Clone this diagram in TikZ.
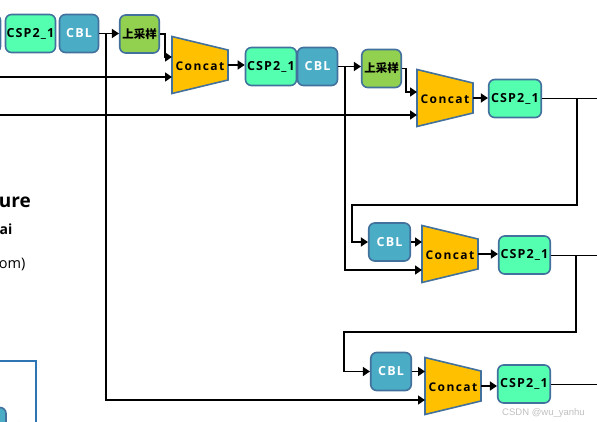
\documentclass[tikz,border=0pt]{standalone}
\usepackage{fontspec}
\setmainfont{Open Sans}
\newfontfamily\cjk{Noto Sans CJK SC}
\newfontfamily\wm{Liberation Sans}
\usetikzlibrary{arrows.meta}
\definecolor{bordc}{HTML}{41719C}
\definecolor{cspfill}{HTML}{55FFB0}
\definecolor{cblfill}{HTML}{4BACC6}
\definecolor{upfill}{HTML}{92D050}
\definecolor{catfill}{HTML}{FFC000}
\definecolor{framec}{HTML}{2E75B6}
\definecolor{wmc}{HTML}{BFBFBF}
\begin{document}
\begin{tikzpicture}[x=1pt,y=-1pt,
  blk/.style={draw=bordc,line width=1.6pt,rounded corners=6pt,inner sep=0pt,minimum height=38pt,
    font=\fontsize{12.5}{14}\selectfont\bfseries\addfontfeature{LetterSpace=9}},
  cspbox/.style={blk,fill=cspfill,minimum width=50pt},
  cblbox/.style={blk,fill=cblfill,text=white,minimum width=39pt},
  upbox/.style={blk,fill=upfill,minimum width=39.5pt,font=\cjk\fontsize{11.5}{13}\selectfont\bfseries},
  arr/.style={line width=1.5pt,-{Triangle[length=7pt,width=9pt]}},
  ln/.style={line width=1.5pt},
  thinln/.style={line width=1pt},
  concatpic/.pic={
    \draw[draw=bordc,fill=catfill,line width=1.6pt,line join=miter]
      (-28,-28.5) -- (28,-15) -- (28,15) -- (-28,28.5) -- cycle;
    \node[font=\fontsize{12}{14}\selectfont\bfseries\addfontfeature{LetterSpace=12}] (-t) at (0,1) {Concat};
    \coordinate (-w) at (-28,0);
    \coordinate (-e) at (28,0);
  }]
\useasboundingbox (0,0) rectangle (597,422);
\clip (0,0) rectangle (597,422);

% blocks
\node[cblbox] (cbl0) at (-19,33.5) {};
\node[cspbox] (csp1) at (30.5,33.5) {CSP2\_1};
\node[cblbox] (cbl1) at (79,33.5) {CBL};
\node[upbox] (up1) at (139.5,34) {上采样};
\pic (c1) at (200,65) {concatpic};
\node[cspbox,minimum width=51pt] (csp2) at (271,66.5) {CSP2\_1};
\node[cblbox,minimum width=40pt] (cbl2) at (317.5,66.5) {CBL};
\node[upbox] (up2) at (381.5,68.5) {上采样};
\pic (c2) at (445,98) {concatpic};
\node[cspbox,minimum width=52.5pt] (csp3) at (515,98.5) {CSP2\_1};
\node[cblbox,minimum width=41.5pt] (cbl3) at (389.5,242) {CBL};
\pic (c3) at (450,254) {concatpic};
\node[cspbox,minimum width=51.5pt] (csp4) at (524.5,255) {CSP2\_1};
\node[cblbox,minimum width=40.5pt] (cbl4) at (391,371.5) {CBL};
\pic (c4) at (453,386) {concatpic};
\node[cspbox,minimum width=52.5pt] (csp5) at (524,384) {CSP2\_1};

% free ends
\coordinate (in1) at (-2,77);
\coordinate (in2) at (-2,115);
\coordinate (edge) at (600,0);

% connectors
\draw[arr] (cbl1.east) -- (cbl1.east -| up1.west);
\coordinate (j1) at ([xshift=6.5pt]cbl1.east);
\draw[arr] (j1) |- ([yshift=-14pt]c4-w);
\draw[arr] (up1.east) -- ++(5,0) |- ([yshift=8pt]c1-w);
\draw[arr] (in1) -- (in1 -| c1-w);
\draw[arr] (in2) -- (in2 -| c2-w);
\draw[arr] (c1-e) -- (c1-e -| csp2.west);
\draw[arr] (cbl2.east) -- (cbl2.east -| up2.west);
\coordinate (j2) at ([xshift=6.5pt]cbl2.east);
\draw[arr] (j2) |- ([yshift=-16pt]c3-w);
\draw[arr] (up2.east) -- ++(4,0) |- ([yshift=6pt]c2-w);
\draw[arr] (c2-e) -- (c2-e -| csp3.west);
\draw[thinln] (csp3.east) -- (csp3.east -| edge);
\coordinate (k1) at ([xshift=35pt]csp3.east);
\draw[arr] (k1) |- ++(-225,106.5) |- (cbl3.west);
\draw[arr] (cbl3.east) -- (cbl3.east -| c3-w);
\draw[arr] (c3-e) -- (c3-e -| csp4.west);
\draw[thinln] (csp4.east) -- (csp4.east -| edge);
\coordinate (k2) at ([xshift=25pt]csp4.east);
\draw[arr] (k2) |- ++(-232,77) |- (cbl4.west);
\draw[arr] (cbl4.east) -- (cbl4.east -| c4-w);
\draw[arr] (c4-e) -- (c4-e -| csp5.west);
\draw[thinln] (csp5.east) -- (csp5.east -| edge);

% bottom-left frame
\node[draw=framec,line width=2pt,minimum width=80pt,minimum height=100pt,anchor=north east,inner sep=0pt] (fr) at (36.5,359.5) {};
\node[cblbox,minimum width=40pt] (cbl5) at (-14,426.5) {};
\draw[arr] (cbl5.east) -- ++(19,0);

% cut text fragments
\node[font=\fontsize{19}{22}\selectfont\bfseries,anchor=base east,inner sep=0pt] (t1) at (31,208) {ure};
\node[font=\fontsize{14}{16}\selectfont\bfseries,anchor=base east,inner sep=0pt] (t2) at (12.5,235) {ai};
\node[font=\fontsize{14.5}{16}\selectfont,anchor=base east,inner sep=0pt] (t3) at (25.5,269) {om)};
\node[font=\wm\fontsize{9.5}{11}\selectfont,text=wmc,anchor=base west,inner sep=0pt] (wm) at (502,415) {CSDN @wu\_yanhu};
\end{tikzpicture}
\end{document}
